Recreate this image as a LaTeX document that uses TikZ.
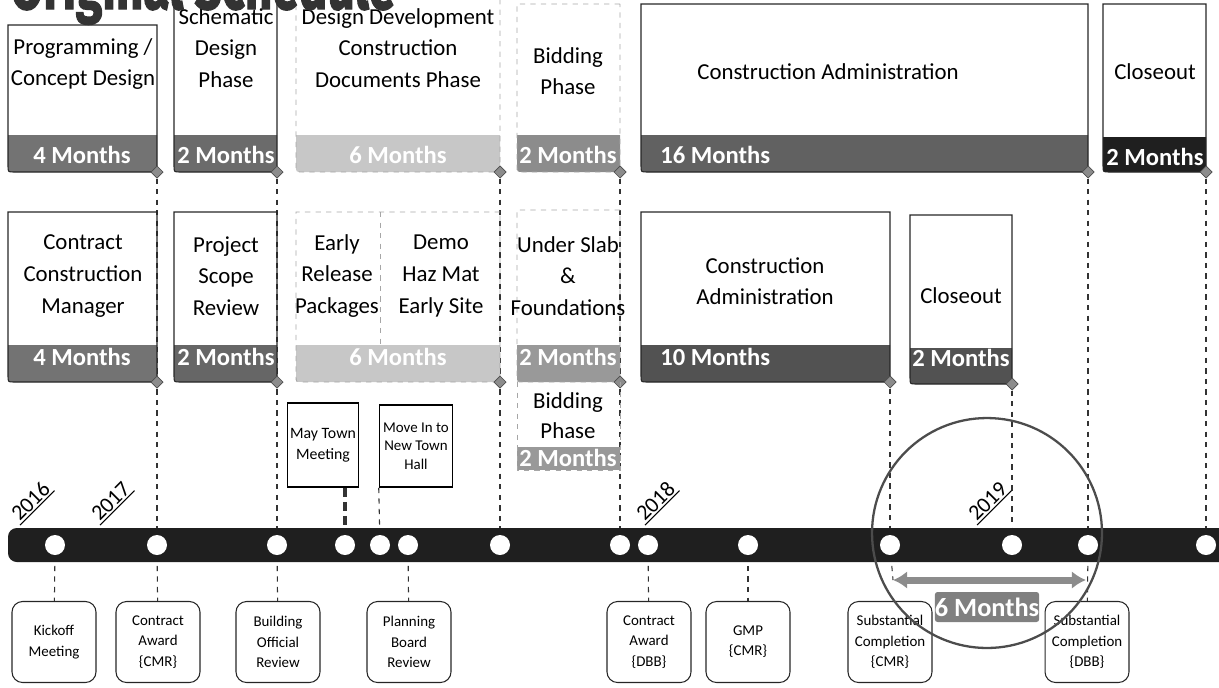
\documentclass[tikz,border=0pt]{standalone}
\usepackage{fontspec}
\setmainfont{Carlito}
\newfontfamily\titlefont[BoldFeatures={FakeBold=2}]{Fira Sans}
\usetikzlibrary{shapes.geometric,arrows.meta}
\pgfdeclarelayer{background}
\pgfsetlayers{background,main}

% left, right, top, band top, bottom, band colour, frame style, name of corner mark
\newcommand{\phasebox}[8]{%
  \fill[#6] (#2,#4) -- (#1,#4) -- (#1,#5-6) .. controls (#1,#5) .. (#1+6,#5) -- (#2,#5) -- cycle;
  \draw[#7] (#2,#3) -- (#1,#3) -- (#1,#5-6) .. controls (#1,#5) .. (#1+6,#5) -- (#2,#5) -- cycle;
  \node[cornermark] (#8) at (#2,#5) {};}

\begin{document}
\begin{tikzpicture}[x=0.02cm, y=-0.02cm,
    frame/.style={draw=black!85, line width=0.6pt},
    lightframe/.style={draw=black!35, dashed, line width=0.5pt},
    cornermark/.style={diamond, fill=black!45, draw=black!70, line width=0.4pt, inner sep=0pt, minimum size=7pt},
    phasetext/.style={font=\fontsize{13}{18}\selectfont, align=center, inner sep=0pt},
    months/.style={font=\fontsize{14}{16}\selectfont\bfseries, text=white, inner sep=0pt},
    tldot/.style={circle, fill=white, inner sep=0pt, minimum size=0.4cm},
    dashlink/.style={black!80, dashed, line width=0.6pt},
    milestone/.style={draw=black!85, rounded corners=6pt, line width=0.6pt, minimum width=1.68cm,
      minimum height=1.62cm, align=center, font=\fontsize{8.5}{11.5}\selectfont},
    townbox/.style={draw=black, line width=0.9pt, align=center, inner sep=1pt},
    year/.style={font=\fontsize{12.5}{14}\selectfont, rotate=45, anchor=south west, inner sep=1pt}]
  \useasboundingbox (0,0) rectangle (1219,687);
  \clip (0,0) rectangle (1219,687);

  % top row: original phases
  \phasebox{8}{157}{25}{135}{172}{black!55}{frame}{tA}
  \phasebox{174}{277}{-2}{135}{172}{black!58}{frame}{tB}
  \phasebox{296}{500}{-2}{135}{172}{black!22}{lightframe}{tC}
  \phasebox{517}{620}{4}{135}{172}{black!45}{lightframe}{tD}
  \phasebox{641}{1088}{4}{135}{172}{black!62}{frame}{tE}
  \phasebox{1103}{1206}{4}{137}{172}{black!88}{frame}{tF}

  \node[phasetext] (prog) at (83,64) {Programming /\\Concept Design};
  \node[phasetext] (sd) at (226,48) {Schematic\\Design\\Phase};
  \node[phasetext] (dd) at (398,48) {Design Development\\Construction\\Documents Phase};
  \node[phasetext] (bid) at (568,71) {Bidding\\Phase};
  \node[phasetext] (ca) at (828,72) {Construction Administration};
  \node[phasetext] (close) at (1155,72) {Closeout};
  \node[months] (mA) at (82,155) {4 Months};
  \node[months] (mB) at (226,155) {2 Months};
  \node[months] (mC) at (398,155) {6 Months};
  \node[months] (mD) at (568,155) {2 Months};
  \node[months, anchor=west] (mE) at (660,155) {16 Months};
  \node[months] (mF) at (1155,157) {2 Months};

  % middle row: CM at risk phases
  \phasebox{8}{157}{212}{345}{382}{black!55}{frame}{tAm}
  \phasebox{174}{277}{212}{345}{382}{black!60}{frame}{tBm}
  \phasebox{296}{500}{212}{345}{382}{black!22}{lightframe}{tCm}
  \phasebox{517}{620}{210}{345}{382}{black!40}{lightframe}{tDm}
  \phasebox{641}{890}{212}{345}{382}{black!68}{frame}{tEm}
  \phasebox{910}{1012}{215}{348}{384}{black!68}{frame}{tFm}
  \draw[lightframe] (380,212) -- (380,345);
  \fill[black!40] (517,447) rectangle (620,470);
  \draw[lightframe] (517,382) -- (517,470) -- (620,470) -- (620,382);

  \node[phasetext] (ccm) at (83,276) {Contract\\Construction\\Manager};
  \node[phasetext] (psr) at (226,276) {Project\\Scope\\Review};
  \node[phasetext] (erp) at (337,276) {Early\\Release\\Packages};
  \node[phasetext] (demo) at (441,276) {Demo\\Haz Mat\\Early Site};
  \node[phasetext] (usf) at (568,276) {Under Slab\\\&\\Foundations};
  \node[phasetext] (cam) at (765,281) {Construction\\Administration};
  \node[phasetext] (closem) at (961,296) {Closeout};
  \node[phasetext, font=\fontsize{13}{17}\selectfont] (bidm) at (568,416) {Bidding\\Phase};
  \node[months] (mAm) at (82,357) {4 Months};
  \node[months] (mBm) at (226,357) {2 Months};
  \node[months] (mCm) at (398,357) {6 Months};
  \node[months] (mDm) at (568,357) {2 Months};
  \node[months, anchor=west] (mEm) at (660,357) {10 Months};
  \node[months] (mFm) at (961,358) {2 Months};
  \node[months] (mbid) at (568,458) {2 Months};

  % town events
  \node[townbox, minimum width=1.42cm, minimum height=1.68cm, font=\fontsize{9}{12}\selectfont] (may) at (323,445) {May Town\\Meeting};
  \node[townbox, minimum width=1.46cm, minimum height=1.64cm, font=\fontsize{8.5}{10.5}\selectfont] (move) at (416,446) {Move In to\\New Town\\Hall};

  % timeline
  \fill[black!88, rounded corners=5pt] (8,528) rectangle (1240,562);
  \foreach \x [count=\i] in {55,157,277,345,380,408,500,620,648,748,890,1012,1088,1206}
    \node[tldot] (d\i) at (\x,545) {};
  \foreach \yr/\x in {2016/20,2017/100,2018/645,2019/977} {
    \node[year] (y\yr) at (\x,525) {\yr};
    \draw[line width=0.6pt] (y\yr.south west) -- (y\yr.south east);
  }

  % milestones
  \node[milestone] (kick) at (54,642) {Kickoff\\Meeting};
  \node[milestone] (cacmr) at (158,642) {Contract\\Award\\\{CMR\}};
  \node[milestone] (bor) at (278,642) {Building\\Official\\Review};
  \node[milestone] (pbr) at (409,642) {Planning\\Board\\Review};
  \node[milestone] (cadbb) at (649,642) {Contract\\Award\\\{DBB\}};
  \node[milestone] (gmp) at (748,642) {GMP\\\{CMR\}};
  \node[milestone] (sccmr) at (890,642) {Substantial\\Completion\\\{CMR\}};
  \node[milestone] (scdbb) at (1087,642) {Substantial\\Completion\\\{DBB\}};

  % 6 months gap
  \coordinate (a1) at (893,580);
  \coordinate (a2) at (1086,580);
  \draw[{Latex[length=8pt,width=10pt]}-{Latex[length=8pt,width=10pt]}, black!45, line width=4pt] (a1) -- (a2);
  \node[months, fill=black!50, minimum width=2cm, minimum height=0.6cm, rounded corners=1.5pt,
    font=\fontsize{15}{17}\selectfont\bfseries] (six) at (987,607) {6 Months};
  \draw[black!70, line width=1.3pt] (987,533) circle (2.3cm);

  \begin{pgfonlayer}{background}
    \draw[dashlink] (tA) -- (d2);
    \draw[dashlink] (tB) -- (d3);
    \draw[dashlink] (tC) -- (d7);
    \draw[dashlink] (tD) -- (d8);
    \draw[dashlink] (tE) -- (d13);
    \draw[dashlink] (tF) -- (d14);
    \draw[dashlink] (tEm) -- (d11);
    \draw[dashlink] (tFm) -- (d12);
    \draw[dashlink, line width=2pt, dash pattern=on 5pt off 3pt] (may.south -| d4) -- (d4);
    \draw[dashlink] (move.south west) -- (d5);
    \draw[dashlink] (d1) -- (kick);
    \draw[dashlink] (d2) -- (cacmr);
    \draw[dashlink] (d3) -- (bor);
    \draw[dashlink] (d6) -- (pbr);
    \draw[dashlink] (d9) -- (cadbb);
    \draw[dashlink] (d10) -- (gmp);
    \draw[dashlink] (d11) -- (a1);
    \draw[dashlink] (d13) -- (scdbb);
  \end{pgfonlayer}

  \node[anchor=base west, text=black!80, inner sep=0pt] (title) at (10,9)
    {\titlefont\bfseries\fontsize{40}{42}\selectfont\scalebox{0.68}[1]{Original Schedule}};
\end{tikzpicture}
\end{document}
